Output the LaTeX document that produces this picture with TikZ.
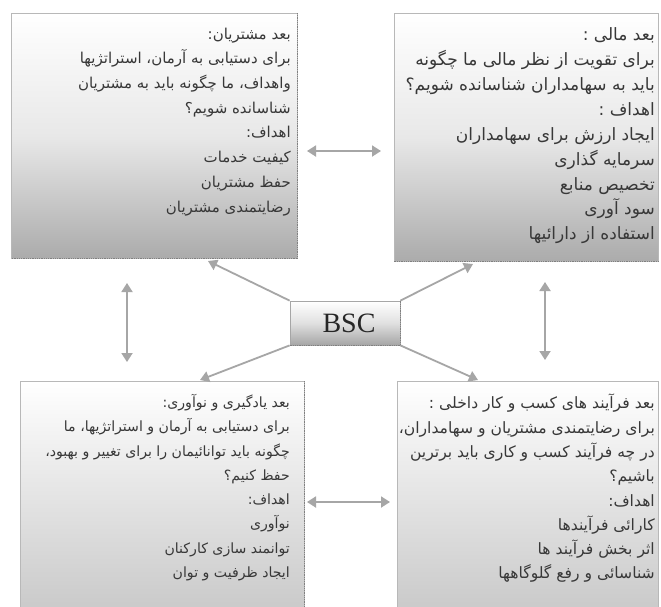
\documentclass[tikz,border=0pt]{standalone}
\usepackage{fontspec}
\setmainfont{Liberation Serif}
\newfontfamily\arabicfont[Script=Arabic]{DejaVu Sans}
\TeXXeTstate=1
\usetikzlibrary{arrows.meta}
\newcommand\fa[1]{\beginR #1\endR}
\tikzset{
  panel/.style={draw=black!28, line width=0.8pt, top color=white, bottom color=black!33, middle color=black!9, inner sep=0pt, anchor=north west},
  edgedots/.style={black!50, line width=1.3pt, dash pattern=on 0.9pt off 0.9pt},
  link/.style={draw=black!35, line width=1.8pt, -{Triangle[length=9pt,width=11pt]}},
  dlink/.style={draw=black!35, line width=1.8pt, {Triangle[length=9pt,width=11pt]}-{Triangle[length=9pt,width=11pt]}},
  txt/.style={anchor=north east, align=right, inner sep=0pt, text=black!78},
}
\begin{document}
\begin{tikzpicture}[x=1pt,y=-1pt]
\clip (0,0) rectangle (661,606);
\fill[white] (0,0) rectangle (661,606);
% panels
\node[panel, minimum width=286pt, minimum height=245pt] (tl) at (11,13) {};
\node[panel, minimum width=264pt, minimum height=248pt] (tr) at (394,13) {};
\node[panel, minimum width=284pt, minimum height=240pt, bottom color=black!22] (bl) at (20,381) {};
\node[panel, minimum width=261pt, minimum height=240pt, bottom color=black!22] (br) at (397,381) {};
\draw[edgedots] (tl.north east) -- (tl.south east) -- (tl.south west);
\draw[edgedots] (tr.south east) -- (tr.south west);
\draw[edgedots] (bl.north east) -- (bl.south east);
% texts
\node[txt, font=\arabicfont\fontsize{15}{24.7}\selectfont] (tlt) at (291,27.5) {%
\fa{بعد مشتریان:}\\
\fa{برای دستیابی به آرمان، استراتژیها}\\
\fa{واهداف، ما چگونه باید به مشتریان}\\
\fa{شناسانده شویم؟}\\
\fa{اهداف:}\\
\fa{کیفیت خدمات}\\
\fa{حفظ مشتریان}\\
\fa{رضایتمندی مشتریان}};
\node[txt, font=\arabicfont\fontsize{17}{24.9}\selectfont] (trt) at (655,27.5) {%
\fa{بعد مالی :}\\
\fa{برای تقویت از نظر مالی ما چگونه}\\
\fa{باید به سهامداران شناسانده شویم؟}\\
\fa{اهداف :}\\
\fa{ایجاد ارزش برای سهامداران}\\
\fa{سرمایه گذاری}\\
\fa{تخصیص منابع}\\
\fa{سود آوری}\\
\fa{استفاده از دارائیها}};
\node[txt, font=\arabicfont\fontsize{14.1}{24.3}\selectfont] (blt) at (290,394) {%
\fa{بعد یادگیری و نوآوری:}\\
\fa{برای دستیابی به آرمان و استراتژیها، ما}\\
\fa{چگونه باید توانائیمان را برای تغییر و بهبود،}\\
\fa{حفظ کنیم؟}\\
\fa{اهداف:}\\
\fa{نوآوری}\\
\fa{توانمند سازی کارکنان}\\
\fa{ایجاد ظرفیت و توان}};
\node[txt, font=\arabicfont\fontsize{15.6}{24.3}\selectfont] (brt) at (655,394) {%
\fa{بعد فرآیند های کسب و کار داخلی :}\\
\fa{برای رضایتمندی مشتریان و سهامداران،}\\
\fa{در چه فرآیند کسب و کاری باید برترین}\\
\fa{باشیم؟}\\
\fa{اهداف:}\\
\fa{کارائی فرآیندها}\\
\fa{اثر بخش فرآیند ها}\\
\fa{شناسائی و رفع گلوگاهها}};
% centre
\node[panel, anchor=center, minimum width=110pt, minimum height=44pt, draw=black!35, bottom color=black!35, middle color=black!12, font=\fontsize{28}{28}\selectfont, text=black!85] (bsc) at (345,323) {\hspace*{8pt}BSC};
\draw[edgedots] (bsc.north east) -- (bsc.south east) -- (bsc.south west);
% tips
\coordinate (tlA) at (208,261);
\coordinate (trA) at (473,264);
\coordinate (blA) at (200,380);
\coordinate (brA) at (478,380);
\draw[link] (bsc.north west) -- (tlA);
\draw[link] (bsc.north east) -- (trA);
\draw[link] (bsc.south west) -- (blA);
\draw[link] (bsc.south east) -- (brA);
% double arrows
\coordinate (h1a) at (307,151); \coordinate (h1b) at (381,151);
\coordinate (v1a) at (127,283); \coordinate (v1b) at (127,362);
\coordinate (v2a) at (545,282); \coordinate (v2b) at (545,360);
\coordinate (h2a) at (307,502); \coordinate (h2b) at (390,502);
\draw[dlink] (h1a) -- (h1b);
\draw[dlink] (v1a) -- (v1b);
\draw[dlink] (h2a) -- (h2b);
\draw[dlink] (v2a) -- (v2b);
\end{tikzpicture}
\end{document}
